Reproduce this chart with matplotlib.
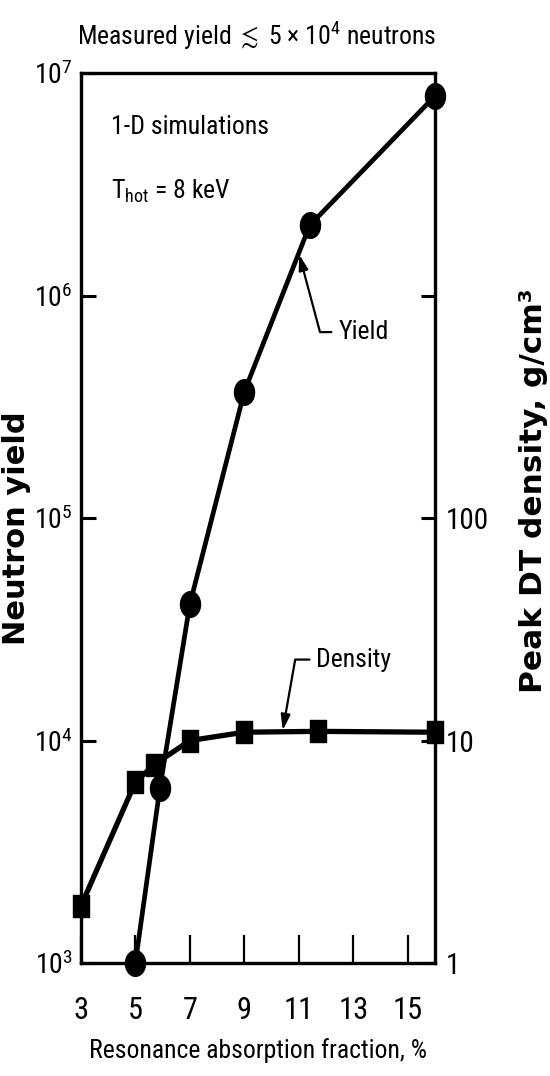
import numpy as np
import matplotlib
matplotlib.use("Agg")
import matplotlib.pyplot as plt
from matplotlib.path import Path
from matplotlib.transforms import Affine2D

# Neutron yield (left axis) and peak DT density (right axis) vs absorption fraction
yield_x = [5.0, 5.9, 7.0, 9.0, 11.4, 16.0]
yield_y = [1.0e3, 6.1e3, 4.1e4, 3.7e5, 2.07e6, 7.9e6]

density_x = [3.0, 5.0, 5.7, 7.0, 9.0, 11.7, 16.0]
density_y = [1.8, 6.5, 7.8, 10.0, 10.9, 11.0, 10.9]

x_ticks = [3, 5, 7, 9, 11, 13, 15]
yield_ticks = [1e3, 1e4, 1e5, 1e6, 1e7]
yield_tick_labels = [r"10$^{3}$", r"10$^{4}$", r"10$^{5}$", r"10$^{6}$", r"10$^{7}$"]
density_ticks = [1, 10, 100, 1000]
density_tick_labels = ["1", "10", "100", ""]

NARROW = ["Roboto Condensed", "PT Sans Narrow", "Archivo Narrow", "DejaVu Sans"]
BOLD = ["DejaVu Sans"]

plt.rcParams["font.family"] = NARROW
plt.rcParams["mathtext.fontset"] = "custom"
plt.rcParams["mathtext.rm"] = "Roboto Condensed"
plt.rcParams["mathtext.it"] = "Roboto Condensed"

fig = plt.figure(figsize=(5.5, 10.76), dpi=100)
ax = fig.add_axes([0.147, 0.105, 0.644, 0.827])

# tall ellipse / tall box markers
ellipse = Path.unit_circle().transformed(Affine2D().scale(0.78, 1.0))
box = Path([(-0.72, -1), (0.72, -1), (0.72, 1), (-0.72, 1), (-0.72, -1)],
           [Path.MOVETO, Path.LINETO, Path.LINETO, Path.LINETO, Path.CLOSEPOLY])

ax.set_yscale("log")
ax.set_xlim(3, 16)
ax.set_ylim(1e3, 1e7)
ax.plot(yield_x, yield_y, color="black", lw=3.4, marker=ellipse, ms=18.5,
        clip_on=False, zorder=4)

ax2 = ax.twinx()
ax2.set_yscale("log")
ax2.set_ylim(1, 1e4)
ax2.plot(density_x, density_y, color="black", lw=3.8, marker=box, ms=16,
         clip_on=False, zorder=4)

for a in (ax, ax2):
    for s in a.spines.values():
        s.set_linewidth(2.3)
    a.minorticks_off()

ax.set_xticks(x_ticks)
ax.set_xticklabels([str(v) for v in x_ticks])
ax.set_yticks(yield_ticks)
ax.set_yticklabels(yield_tick_labels)
ax.tick_params(axis="x", direction="in", length=20, width=1.6, pad=24,
               labelsize=22)
ax.tick_params(axis="y", direction="in", length=11, width=2.2, pad=6,
               labelsize=20)
ax2.set_yticks(density_ticks)
ax2.set_yticklabels(density_tick_labels)
ax2.tick_params(axis="y", direction="in", length=10, width=2.2, pad=8,
                labelsize=21)

ax.set_xlabel("Resonance absorption fraction, %", fontsize=18.5, labelpad=9)
ax.set_ylabel("Neutron yield", fontsize=22, family=BOLD, fontweight="bold")
ax.yaxis.set_label_coords(-0.142, 0.489)
ax2.set_ylabel("Peak DT density, g/cm³", fontsize=22.5,
               family=BOLD, fontweight="bold", rotation=90)
ax2.yaxis.set_label_coords(1.236, 0.531)

fig.text(0.467, 0.967, r"Measured yield $\lesssim$ 5 $\times$ 10$^{4}$ neutrons",
         ha="center", va="center", fontsize=18.5)

ax.text(0.085, 0.94, "1-D simulations", transform=ax.transAxes,
        ha="left", va="center", fontsize=18.5)
ax.text(0.085, 0.867, r"T$_{\mathregular{hot}}$ = 8 keV", transform=ax.transAxes,
        ha="left", va="center", fontsize=18.5)

# leader arrows pointing at the two curves
ax_lx = 11.0
ax_ly = 10 ** np.interp(ax_lx, yield_x, np.log10(yield_y))
ax.annotate("Yield", xy=(ax_lx, ax_ly), xycoords="data",
            xytext=(0.727, 0.709), textcoords="axes fraction",
            ha="left", va="center", fontsize=18.5,
            arrowprops=dict(arrowstyle="-|>,head_length=0.5,head_width=0.15",
                            connectionstyle="angle,angleA=0,angleB=-75,rad=0",
                            color="black", lw=1.6, relpos=(0, 0.5),
                            shrinkA=3, shrinkB=1))

d_lx = 10.4
d_ly = 10 ** np.interp(d_lx, density_x, np.log10(density_y))
ax2.annotate("Density", xy=(d_lx, d_ly), xycoords="data",
             xytext=(0.665, 0.341), textcoords="axes fraction",
             ha="left", va="center", fontsize=18.5,
             arrowprops=dict(arrowstyle="-|>,head_length=0.5,head_width=0.15",
                             connectionstyle="angle,angleA=0,angleB=80,rad=0",
                             color="black", lw=1.6, relpos=(0, 0.5),
                             shrinkA=3, shrinkB=1))

fig.savefig("out.png", dpi=100)
